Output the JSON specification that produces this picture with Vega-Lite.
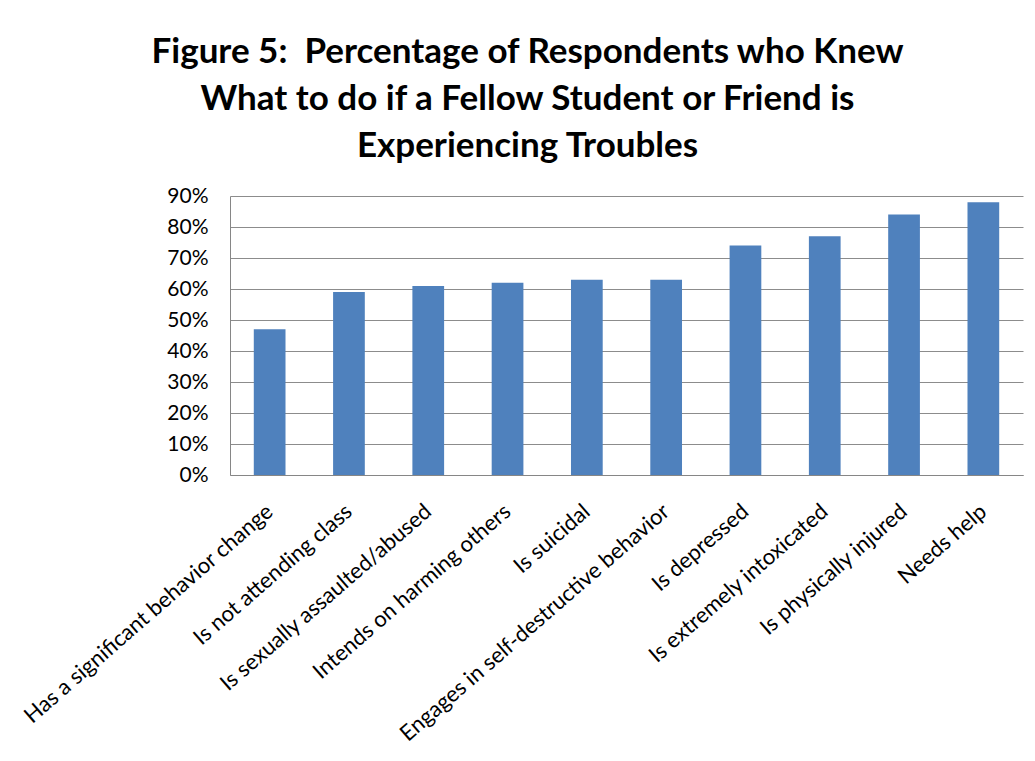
{
  "$schema": "https://vega.github.io/schema/vega-lite/v6.json",
  "width": 793,
  "height": 279,
  "autosize": {"type": "none"},
  "padding": {"left": 230, "top": 196, "right": 12, "bottom": 286},
  "background": "white",
  "title": {
    "text": ["Figure 5:\u00a0 Percentage of Respondents who Knew", "What to do if a Fellow Student or Friend is", "Experiencing Troubles"],
    "anchor": "middle",
    "frame": "group",
    "dx": -99,
    "offset": 21,
    "font": "Lato",
    "fontSize": 35,
    "fontWeight": "bold",
    "lineHeight": 47,
    "color": "#000000"
  },
  "data": {
    "values": [
      {"item": "Has a significant behavior change", "pct": 0.47},
      {"item": "Is not attending class", "pct": 0.59},
      {"item": "Is sexually assaulted/abused", "pct": 0.61},
      {"item": "Intends on harming others", "pct": 0.62},
      {"item": "Is suicidal", "pct": 0.63},
      {"item": "Engages in self-destructive behavior", "pct": 0.63},
      {"item": "Is depressed", "pct": 0.74},
      {"item": "Is extremely intoxicated", "pct": 0.77},
      {"item": "Is physically injured", "pct": 0.84},
      {"item": "Needs help", "pct": 0.88}
    ]
  },
  "mark": {"type": "bar", "color": "#4F81BD"},
  "encoding": {
    "x": {
      "field": "item",
      "type": "nominal",
      "sort": null,
      "scale": {"paddingInner": 0.6, "paddingOuter": 0.3},
      "axis": {
        "title": null,
        "labelAngle": -41,
        "labelAlign": "right",
        "labelBaseline": "middle",
        "labelFont": "Lato",
        "labelFontSize": 22,
        "labelColor": "#000000",
        "labelPadding": 33,
        "labelLimit": 0,
        "ticks": false,
        "domainColor": "#868686",
        "grid": false
      }
    },
    "y": {
      "field": "pct",
      "type": "quantitative",
      "scale": {"domain": [0, 0.9], "nice": false},
      "axis": {
        "title": null,
        "format": ".0%",
        "values": [0, 0.1, 0.2, 0.3, 0.4, 0.5, 0.6, 0.7, 0.8, 0.9],
        "labelFont": "Lato",
        "labelFontSize": 21,
        "labelColor": "#000000",
        "labelPadding": 22,
        "ticks": false,
        "domainColor": "#868686",
        "gridColor": "#8C8C8C",
        "gridWidth": 1
      }
    }
  },
  "config": {
    "view": {"stroke": null}
  }
}
